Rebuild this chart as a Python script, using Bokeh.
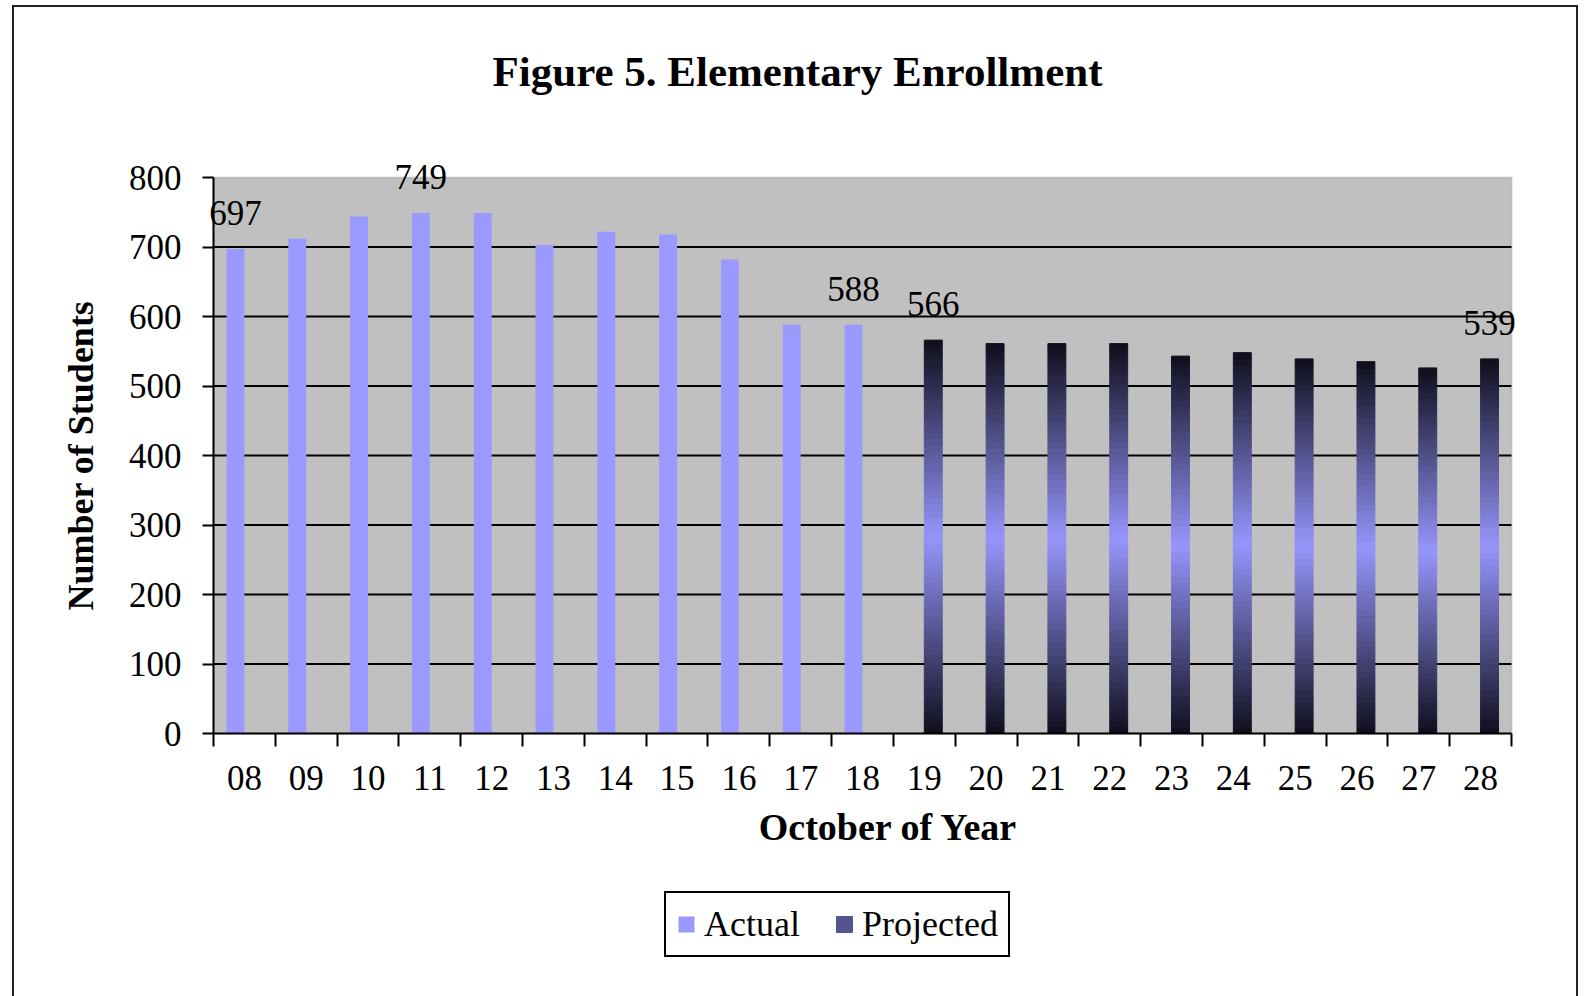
from bokeh.plotting import figure
from bokeh.models import (Range1d, FixedTicker, ColumnDataSource, Legend, LegendItem,
                          Label, LabelSet, BoxAnnotation, GlobalInlineStyleSheet)
from bokeh.core.properties import value
from bokeh.embed import file_html
from bokeh.resources import INLINE

# ---------------- data ----------------
years = ["08", "09", "10", "11", "12", "13", "14", "15", "16", "17", "18",
         "19", "20", "21", "22", "23", "24", "25", "26", "27", "28"]
actual_years = years[:11]
actual = [697, 712, 744, 749, 749, 703, 722, 718, 682, 588, 588]
projected_years = years[11:]
projected = [566, 561, 561, 561, 543, 548, 539, 535, 526, 539]
labeled_years = ["08", "11", "18", "19", "28"]
y_ticks = [0, 100, 200, 300, 400, 500, 600, 700, 800]

title_text = "Figure 5. Elementary Enrollment"
x_title = "October of Year"
y_title = "Number of Students"

# ---------------- layout / style ----------------
FONT = "Liberation Serif"
W, H = 1588, 996
# plot-area edges on the canvas (px)
PA_L, PA_R, PA_T, PA_B = 213, 1511, 177, 733
BAR_W = 0.29
OFF = 0.145
ACTUAL_COLOR = "#9999FF"
DARK = (14, 14, 28)
LIGHT = (150, 150, 252)
NSLICE = 60
n_cat = len(years)
y_max = y_ticks[-1]

# the frame covers the whole canvas; axes are pinned at the plot-area edges
sx_u = (PA_R - PA_L) / n_cat
sy_u = (PA_B - PA_T) / y_max
x_rng = Range1d(-PA_L / sx_u, n_cat + (W - PA_R) / sx_u)
y_rng = Range1d(-(H - PA_B) / sy_u, y_max + PA_T / sy_u)

p = figure(width=W, height=H, output_backend="svg", toolbar_location=None,
           x_range=x_rng, y_range=y_rng,
           min_border_left=0, min_border_right=0, min_border_top=0,
           min_border_bottom=0)
p.background_fill_color = "white"
p.border_fill_color = "white"
p.outline_line_color = None

# outer chart border (page-level overlay)
p.stylesheets = [GlobalInlineStyleSheet(css=(
    "body::after{content:'';position:fixed;left:12px;top:5px;width:1566px;"
    "height:1200px;border:2px solid #222222;box-sizing:border-box;"
    "pointer-events:none;}"))]

# plot area (grey) with its grey border
p.add_layout(BoxAnnotation(left=0, right=n_cat, bottom=0, top=y_max,
                           fill_color="#C0C0C0", fill_alpha=1,
                           line_color="#808080", line_width=2, level="image"))

pos = {y: i + 0.5 for i, y in enumerate(years)}

# horizontal grid lines, only across the plot area (drawn before the bars)
p.xgrid.visible = False
p.ygrid.visible = False
grid_y = y_ticks[1:-1]
p.segment(x0=[0] * len(grid_y), x1=[n_cat] * len(grid_y), y0=grid_y, y1=grid_y,
          line_color="black", line_width=2)

# actual bars
act_src = ColumnDataSource(dict(x=[pos[y] - OFF for y in actual_years], top=actual))
r_act = p.vbar(x="x", top="top", width=BAR_W, bottom=0, source=act_src,
               fill_color=ACTUAL_COLOR, line_color=None)

# projected bars with vertical gradient (dark - light - dark)
px, pb, pt, pc = [], [], [], []
for yr, v in zip(projected_years, projected):
    for k in range(NSLICE):
        t = (k + 0.5) / NSLICE
        f = 1 - abs(2 * t - 1)
        c = tuple(int(round(DARK[j] + (LIGHT[j] - DARK[j]) * f)) for j in range(3))
        px.append(pos[yr] + OFF)
        pb.append(v * k / NSLICE)
        pt.append(v * (k + 1) / NSLICE)
        pc.append("#%02x%02x%02x" % c)
proj_src = ColumnDataSource(dict(x=px, bottom=pb, top=pt, color=pc))
r_proj = p.vbar(x="x", top="top", bottom="bottom", width=BAR_W, source=proj_src,
                fill_color="color", line_color="color", line_width=1)

# data labels
all_vals = dict(zip(actual_years, actual))
all_vals.update(dict(zip(projected_years, projected)))
lab_x = [pos[y] - OFF if y in actual_years else pos[y] + OFF for y in labeled_years]
lab_y = [all_vals[y] for y in labeled_years]
lab_t = [str(all_vals[y]) for y in labeled_years]
lab_src = ColumnDataSource(dict(x=lab_x, y=lab_y, t=lab_t))
p.add_layout(LabelSet(x="x", y="y", text="t", source=lab_src, y_offset=24,
                      text_align="center", text_baseline="alphabetic",
                      text_font=value(FONT), text_font_size=value("35px"),
                      text_color="black"))

# y axis
ya = p.yaxis[0]
ya.fixed_location = 0
ya.ticker = FixedTicker(ticks=y_ticks)
ya.bounds = (0, y_max)
ya.axis_line_color = "black"
ya.axis_line_width = 2
ya.major_tick_line_color = "black"
ya.major_tick_line_width = 2
ya.major_tick_out = 11
ya.major_tick_in = 0
ya.minor_tick_line_color = None
ya.major_label_text_font = FONT
ya.major_label_text_font_size = "35px"
ya.major_label_text_color = "black"
ya.major_label_standoff = 21
ya.axis_label = y_title
ya.axis_label_text_font = FONT
ya.axis_label_text_font_style = "bold"
ya.axis_label_text_font_size = "36px"
ya.axis_label_text_color = "black"
ya.axis_label_standoff = 25

# x axis: labels at category centres, tick marks at category boundaries
xa = p.xaxis[0]
xa.fixed_location = 0
centers = [pos[y] for y in years]
xa.ticker = FixedTicker(ticks=centers, minor_ticks=list(range(n_cat + 1)))
xa.major_label_overrides = {pos[y]: y for y in years}
xa.bounds = (0, n_cat)
xa.axis_line_color = "black"
xa.axis_line_width = 2
xa.major_tick_out = 0
xa.major_tick_in = 0
xa.major_tick_line_color = None
xa.minor_tick_out = 13
xa.minor_tick_in = 0
xa.minor_tick_line_color = "black"
xa.minor_tick_line_width = 2
xa.major_label_text_font = FONT
xa.major_label_text_font_size = "35px"
xa.major_label_text_color = "black"
xa.major_label_standoff = 19

# chart title and x axis title (screen units: px from left / from bottom)
p.add_layout(Label(x=797, y=H - 71, x_units="screen", y_units="screen",
                   text=title_text, text_align="center", text_baseline="middle",
                   text_font=FONT, text_font_style="bold", text_font_size="43px",
                   text_color="black"))
p.add_layout(Label(x=888, y=H - 826, x_units="screen", y_units="screen",
                   text=x_title, text_align="center", text_baseline="middle",
                   text_font=FONT, text_font_style="bold", text_font_size="38px",
                   text_color="black"))

# legend (location = bottom-left corner, px)
n_leg = int(0.25 * NSLICE)
legend = Legend(items=[LegendItem(label="Actual", renderers=[r_act]),
                       LegendItem(label="Projected", renderers=[r_proj], index=n_leg)],
                orientation="horizontal", location=(664, H - 957),
                border_line_color="black", border_line_width=2, border_line_alpha=1,
                background_fill_color="white", background_fill_alpha=1,
                label_text_font=FONT, label_text_font_size="36px",
                label_text_color="black",
                glyph_width=20, glyph_height=20, label_standoff=8,
                spacing=34, padding=10, margin=0)
p.add_layout(legend)

open("out.html", "w").write(file_html(p, INLINE))
